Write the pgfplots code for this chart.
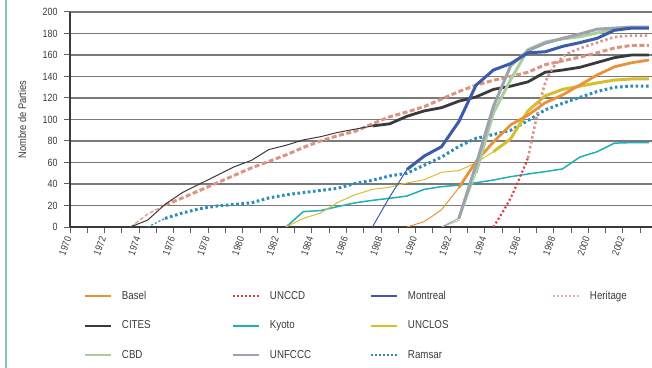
\documentclass[border=0pt]{standalone}
\usepackage{fontspec}
\setmainfont{Liberation Sans}[FakeStretch=0.85]
\usepackage{pgfplots}
\pgfplotsset{compat=1.18}
\usepackage{pgfplotstable}

\definecolor{baselc}{HTML}{E8923A}
\definecolor{unccdc}{HTML}{E53A3F}
\definecolor{unccdp}{HTML}{D4948E}
\definecolor{montc}{HTML}{3C5BA8}
\definecolor{herc}{HTML}{DC9382}
\definecolor{herleg}{HTML}{E3B2AE}
\definecolor{citesc}{HTML}{3A3A3A}
\definecolor{kyotoc}{HTML}{1FAFB8}
\definecolor{unclosc}{HTML}{D8BE2E}
\definecolor{cbdc}{HTML}{ACCE9E}
\definecolor{unfcccc}{HTML}{9CA3AE}
\definecolor{ramsarc}{HTML}{2A8DB8}
\definecolor{gridc}{HTML}{7A7A7A}
\definecolor{framec}{HTML}{88C0BC}

\pgfplotstableread{
x y
1973 0
1974 6.5
1975 21
1976 32
1977 40
1978 48
1979 56
1980 62
1981 72
1982 76
1983 81
1984 84
1985 88
1986 91
1987 94
1988 96
1989 103
1990 108
1991 111
1992 117
1993 121
1994 128
1995 131
1996 135
1997 144
1998 146
1999 148.5
2000 153
2001 157.5
2002 160
2003 160
}\citesdata

\pgfplotstableread{
x y
1973 0
1974 12
1975 20.5
1976 27
1977 34
1978 41
1979 48
1980 55
1981 61
1982 67
1983 74
1984 80
1985 85
1986 89
1987 96
1988 102.5
1989 107
1990 112
1991 119
1992 126
1993 132
1994 136.5
1995 140
1996 144
1997 151
1998 154.5
1999 158
2000 162
2001 166.5
2002 169
2003 169
}\herdata

\pgfplotstableread{
x y
1974 0
1975 8
1976 13
1977 17
1978 19.5
1979 21
1980 22.5
1981 27
1982 30
1983 32
1984 34
1985 36
1986 40.5
1987 43.5
1988 47.5
1989 50
1990 57.5
1991 65
1992 75
1993 82.5
1994 86
1995 90
1996 99
1997 109
1998 115
1999 120.5
2000 126
2001 130
2002 131
2003 131
}\ramsardata

\pgfplotstableread{
x y
1982 0
1983 14.3
1984 15.3
1985 19
1986 22.5
1987 24.8
1988 26.7
1989 28.8
1990 35
1991 37.5
1992 39
1993 41.2
1994 43.7
1995 46.8
1996 49.3
1997 51.5
1998 54
1999 65
2000 70
2001 78
2002 78.5
2003 78.5
}\kyotodata

\pgfplotstableread{
x y
1982 0
1983 8
1984 13
1985 23
1986 30
1987 35
1988 37
1989 41
1990 44
1991 50.9
1992 52.4
1993 59.8
1994 70
1995 82
1996 108
1997 122
1998 128
1999 131
2000 134
2001 136.7
2002 137.7
2003 137.7
}\unclosdata

\pgfplotstableread{
x y
1989 0
1990 5
1991 16
1992 36.5
1993 61
1994 79
1995 95
1996 104
1997 115.6
1998 122.8
1999 132
2000 141.4
2001 149
2002 152.8
2003 155.3
}\baseldata

\pgfplotstableread{
x y
1987 0
1988 28
1989 53.5
1990 66
1991 74.7
1992 98
1993 132
1994 146
1995 152
1996 162
1997 163
1998 168
1999 171.5
2000 175.5
2001 183
2002 185
2003 185
}\montdata

\pgfplotstableread{
x y
1991 0
1992 8
1993 58
1994 112
1995 150
1996 164
1997 171
1998 175.5
1999 179.5
2000 184
2001 185
2002 186
2003 186
}\unfcccdata

\pgfplotstableread{
x y
1991 0
1992 6
1993 50
1994 106
1995 137
1996 165
1997 172
1998 175
1999 177
2000 180.5
2001 184
2002 185.5
2003 185.5
}\cbddata

\pgfplotstableread{
x y
1994 0
1995 27
1996 64
1997 134
1998 158
1999 166
2000 171.5
2001 176.5
2002 178
2003 178
}\unccddata

\begin{document}
\begin{tikzpicture}
\draw[framec, line width=1.5bp] (6bp,0bp) -- (6bp,368bp);
\begin{axis}[
  at={(70bp,141bp)}, anchor=south west,
  width=582bp, height=215bp, scale only axis,
  xmin=1969.5, xmax=2003.18, ymin=0, ymax=200,
  axis x line*=bottom, axis y line*=left,
  x axis line style={line width=2.2bp, color=citesc},
  y axis line style={line width=1.4bp, color=citesc},
  ytick={0,20,...,200},
  ymajorgrids, grid style={color=gridc, line width=1.3bp},
  xtick={1969.5,1971.5,...,2001.5},
  xticklabels={1970,1972,1974,1976,1978,1980,1982,1984,1986,1988,1990,1992,1994,1996,1998,2000,2002},
  minor xtick={1970.5,1972.5,...,2002.5},
  tick align=outside, major tick length=6bp, minor tick length=6bp,
  tick style={color=citesc!80, line width=1bp},
  xtick pos=bottom, ytick pos=left,
  /pgf/number format/assume math mode=true,
  yticklabel style={font=\fontsize{10.5}{12}\selectfont, color=citesc, xshift=-3bp},
  xticklabel style={font=\fontsize{10}{12}\selectfont, color=citesc, rotate=70, anchor=east, xshift=-1bp},
  ylabel={Nombre de Parties},
  ylabel style={font=\fontsize{11}{13}\selectfont, color=citesc, at={(axis description cs:-0.082,0.5)}, anchor=center},
  legend columns=4, legend cell align=left,
  legend image code/.code={\draw[#1] (0bp,0bp) -- (26bp,0bp);},
  legend style={at={(axis description cs:0.024,-0.298)}, anchor=north west, draw=none, fill=none,
    inner sep=0pt, outer sep=0pt, font=\fontsize{11.5}{13}\selectfont, text=citesc,
    row sep=19.5bp, column sep=0bp,
    /tikz/every odd column/.append style={column sep=10bp},
    nodes={inner sep=0pt, text height=8bp, text depth=2bp}},
  no markers, line join=round,
]
% Heritage
\addplot[forget plot, herc, line width=1.2bp, dash pattern=on 4bp off 2bp] table[restrict x to domain=1973:1975] {\herdata};
\addplot[forget plot, herc, line width=3bp, dash pattern=on 5bp off 2.5bp] table[restrict x to domain=1975:2003] {\herdata};
% CITES
\addplot[forget plot, citesc, line width=1bp] table[restrict x to domain=1973:1987] {\citesdata};
\addplot[forget plot, citesc, line width=2.8bp] table[restrict x to domain=1987:2003] {\citesdata};
% Ramsar
\addplot[forget plot, ramsarc, line width=1.2bp, dash pattern=on 2bp off 2bp] table[restrict x to domain=1974:1975] {\ramsardata};
\addplot[forget plot, ramsarc, line width=3bp, dash pattern=on 2.6bp off 2.6bp] table[restrict x to domain=1975:2003] {\ramsardata};
% Kyoto
\addplot[forget plot, kyotoc, line width=1.5bp] table {\kyotodata};
% UNCLOS
\addplot[forget plot, unclosc, line width=1bp] table[restrict x to domain=1982:1994] {\unclosdata};
\addplot[forget plot, unclosc, line width=3bp] table[restrict x to domain=1994:2003] {\unclosdata};
% Basel
\addplot[forget plot, baselc, line width=1bp] table[restrict x to domain=1989:1992] {\baseldata};
\addplot[forget plot, baselc, line width=2.8bp] table[restrict x to domain=1992:2003] {\baseldata};
% CBD
\addplot[forget plot, cbdc, line width=1bp] table[restrict x to domain=1991:1993] {\cbddata};
\addplot[forget plot, cbdc, line width=3bp] table[restrict x to domain=1993:2003] {\cbddata};
% UNFCCC
\addplot[forget plot, unfcccc, line width=1bp] table[restrict x to domain=1991:1992] {\unfcccdata};
\addplot[forget plot, unfcccc, line width=3bp] table[restrict x to domain=1992:2003] {\unfcccdata};
% Montreal
\addplot[forget plot, montc, line width=1bp] table[restrict x to domain=1987:1989] {\montdata};
\addplot[forget plot, montc, line width=3bp] table[restrict x to domain=1989:2003] {\montdata};
% UNCCD
\addplot[forget plot, unccdc, line width=2.2bp, dash pattern=on 2bp off 2.4bp, smooth] table[restrict x to domain=1994:1996] {\unccddata};
\addplot[forget plot, unccdp, line width=2.6bp, dash pattern=on 2.4bp off 2.6bp, smooth] table[restrict x to domain=1996:2003] {\unccddata};

% legend (row order)
\addlegendimage{baselc, line width=2bp}
\addlegendentry{\makebox[110bp][l]{Basel}}
\addlegendimage{unccdc, line width=2bp, dash pattern=on 2bp off 2bp}
\addlegendentry{\makebox[100bp][l]{UNCCD}}
\addlegendimage{montc, line width=2bp}
\addlegendentry{\makebox[144bp][l]{Montreal}}
\addlegendimage{herleg, line width=2bp, dash pattern=on 2bp off 2bp}
\addlegendentry{Heritage}
\addlegendimage{citesc, line width=2bp}
\addlegendentry{\makebox[110bp][l]{CITES}}
\addlegendimage{kyotoc, line width=2bp}
\addlegendentry{\makebox[100bp][l]{Kyoto}}
\addlegendimage{unclosc, line width=2bp}
\addlegendentry{\makebox[144bp][l]{UNCLOS}}
\addlegendimage{empty legend}
\addlegendentry{}
\addlegendimage{cbdc, line width=2bp}
\addlegendentry{\makebox[110bp][l]{CBD}}
\addlegendimage{unfcccc, line width=2bp}
\addlegendentry{\makebox[100bp][l]{UNFCCC}}
\addlegendimage{ramsarc, line width=2bp, dash pattern=on 2bp off 2bp}
\addlegendentry{\makebox[144bp][l]{Ramsar}}
\end{axis}
\pgfresetboundingbox
\path[use as bounding box] (0bp,0bp) rectangle (652bp,368bp);
\end{tikzpicture}
\end{document}
